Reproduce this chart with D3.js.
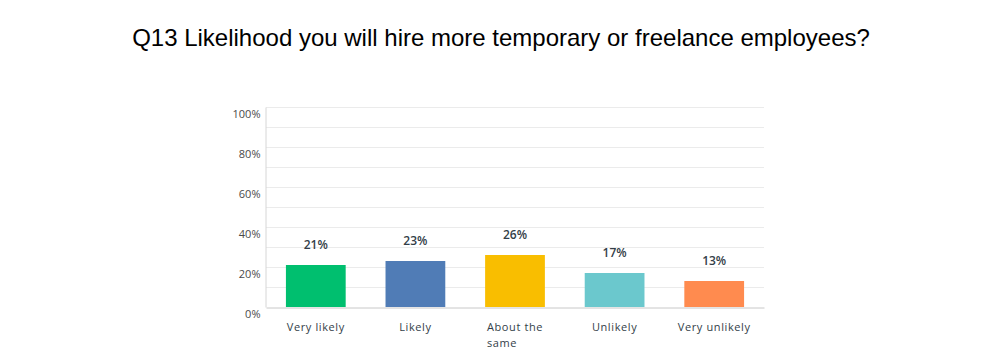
<!DOCTYPE html>
<html>
<head>
<meta charset="utf-8">
<script src="https://cdn.jsdelivr.net/npm/d3@7"></script>
<style>
  html, body { margin: 0; padding: 0; background: #fff; }
  svg { display: block; }
</style>
</head>
<body>
<svg id="chart" width="1000" height="360"></svg>
<script>
const categories = ["Very likely", "Likely", "About the same", "Unlikely", "Very unlikely"];
const values = [21, 23, 26, 17, 13];
const colors = ["#00bf6f", "#507cb6", "#f9be00", "#6bc8cd", "#ff8b4f"];
const yTicks = [0, 20, 40, 60, 80, 100];
const gridTicks = [10, 20, 30, 40, 50, 60, 70, 80, 90, 100];
const title = "Q13 Likelihood you will hire more temporary or freelance employees?";

const svg = d3.select("#chart");
const margin = { left: 266, right: 236, top: 107, bottom: 53 };
const W = 1000, H = 360;

const x = d3.scaleBand().domain(categories).range([margin.left, W - margin.right]).paddingInner(0.4).paddingOuter(0.2);
const y = d3.scaleLinear().domain([0, 100]).range([H - margin.bottom, margin.top]);

svg.append("text")
  .attr("x", 501).attr("y", 46)
  .attr("text-anchor", "middle")
  .attr("font-family", "'Liberation Sans', Arial, sans-serif")
  .attr("font-size", 24)
  .attr("fill", "#000")
  .text(title);

// gridlines
svg.append("g").selectAll("line").data(gridTicks).join("line")
  .attr("x1", margin.left).attr("x2", W - margin.right)
  .attr("y1", d => y(d) + 0.5).attr("y2", d => y(d) + 0.5)
  .attr("stroke", "#ebebeb").attr("stroke-width", 1);

// y axis
const yAxis = d3.axisLeft(y).tickValues(yTicks).tickFormat(d => d + "%").tickSize(0).tickPadding(6);
const yg = svg.append("g").attr("transform", `translate(${margin.left - 0.5},0)`).call(yAxis);
yg.select(".domain").attr("stroke", "#d6d6d6");
yg.selectAll("text")
  .attr("font-family", "'Open Sans', sans-serif")
  .attr("font-size", 11)
  .attr("fill", "#4a4a4a")
  .attr("dy", "0.95em")
  .attr("x", -5);

// bars
svg.append("g").selectAll("rect").data(categories).join("rect")
  .attr("x", d => x(d))
  .attr("width", x.bandwidth())
  .attr("y", (d, i) => y(values[i]))
  .attr("height", (d, i) => y(0) - y(values[i]))
  .attr("fill", (d, i) => colors[i]);

// value labels
svg.append("g").selectAll("text").data(categories).join("text")
  .attr("x", d => x(d) + x.bandwidth() / 2)
  .attr("y", (d, i) => y(values[i]) - 16)
  .attr("text-anchor", "middle")
  .attr("font-family", "'Open Sans', sans-serif")
  .attr("font-weight", 600)
  .attr("font-size", 12)
  .attr("fill", "#333e48")
  .text((d, i) => values[i] + "%");

// x axis
const xAxis = d3.axisBottom(x).tickSize(0).tickFormat("");
const xg = svg.append("g").attr("transform", `translate(0,${y(0) + 0.5})`).call(xAxis);
xg.select(".domain").attr("stroke", "#c8c8c8");

// category labels with wrapping
const maxW = 78;
svg.append("g").selectAll("text").data(categories).join("text")
  .attr("font-family", "'Open Sans', sans-serif")
  .attr("font-size", 11)
  .attr("letter-spacing", "0.6px")
  .attr("fill", "#333e48")
  .each(function(d) {
    const t = d3.select(this);
    const cx = x(d) + x.bandwidth() / 2;
    const words = d.split(" ");
    const lines = [];
    let cur = [];
    const tmp = svg.append("text").attr("font-family", "'Open Sans', sans-serif").attr("font-size", 11).attr("letter-spacing", "0.6px");
    words.forEach(w => {
      const test = cur.concat([w]).join(" ");
      tmp.text(test);
      if (tmp.node().getComputedTextLength() > maxW && cur.length) {
        lines.push(cur.join(" "));
        cur = [w];
      } else cur.push(w);
    });
    lines.push(cur.join(" "));
    tmp.text(lines[0]);
    const w0 = tmp.node().getComputedTextLength();
    tmp.remove();
    const left = lines.length > 1 ? cx - w0 / 2 : null;
    lines.forEach((ln, i) => {
      t.append("tspan")
        .attr("x", left === null ? cx : left)
        .attr("y", y(0) + 24 + i * 16)
        .attr("text-anchor", left === null ? "middle" : "start")
        .text(ln);
    });
  });
</script>
</body>
</html>
